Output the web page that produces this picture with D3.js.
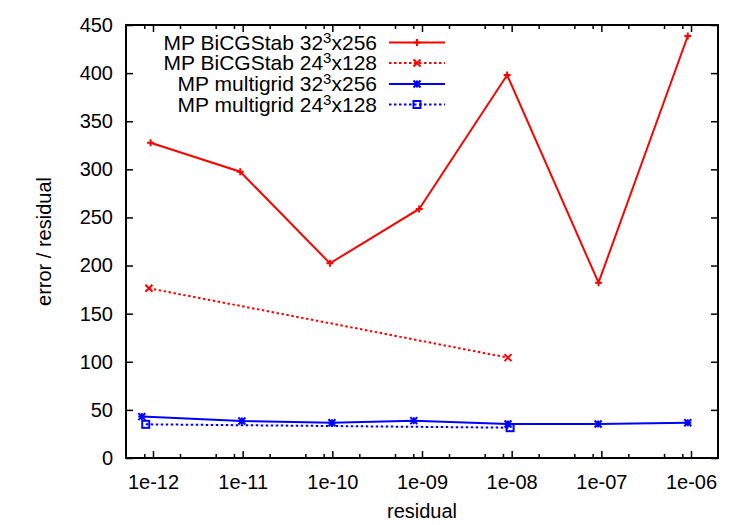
<!DOCTYPE html>
<html lang="en">
	<head>
		<meta charset="utf-8">
		<title>D3: error / residual</title>
		<script src="https://cdn.jsdelivr.net/npm/d3@7"></script>
		<style type="text/css">

			body {
				margin: 0;
				background: white;
			}

			text {
				font-family: "Liberation Sans", Arial, Helvetica, sans-serif;
				font-size: 20px;
				fill: black;
			}

			.legendText {
				font-size: 21px;
			}

			.frame {
				fill: none;
				stroke: black;
				stroke-width: 2;
			}

			.tick line {
				stroke: black;
				stroke-width: 1.5;
			}

			.series {
				fill: none;
				stroke-width: 2;
			}

			.dotted {
				stroke-dasharray: 2.5, 2.5;
			}

		</style>
	</head>
	<body>
		<script>

			//Data
			var bicg32Res = [9.4e-13, 9.4e-12, 9.4e-11, 9.3e-10, 8.9e-9, 9.3e-8, 9.2e-7];
			var bicg32Val = [327.7, 297.5, 202.3, 258.8, 398, 182.2, 438.6];

			var bicg24Res = [9.0e-13, 9.1e-9];
			var bicg24Val = [176.4, 104.3];

			var mg32Res = [7.5e-13, 9.8e-12, 9.9e-11, 8.1e-10, 9.1e-9, 9.2e-8, 9.2e-7];
			var mg32Val = [43, 38.5, 36.7, 38.8, 35.3, 35.3, 36.7];

			var mg24Res = [8.3e-13, 9.6e-9];
			var mg24Val = [35, 31.5];

			var seriesNames = ["MP BiCGStab 32", "MP BiCGStab 24", "MP multigrid 32", "MP multigrid 24"];
			var seriesSizes = ["x256", "x128", "x256", "x128"];

			var xTicks = [1e-12, 1e-11, 1e-10, 1e-9, 1e-8, 1e-7, 1e-6];
			var xTickLabels = ["1e-12", "1e-11", "1e-10", "1e-09", "1e-08", "1e-07", "1e-06"];
			var yTicks = [0, 50, 100, 150, 200, 250, 300, 350, 400, 450];

			//Width and height
			var w = 750;
			var h = 525;
			var padLeft = 126, padRight = 718, padTop = 25, padBottom = 458;

			var xScale = d3.scaleLog()
						.domain([5e-13, 2e-6])
						.range([padLeft, padRight]);

			var yScale = d3.scaleLinear()
						.domain([0, 450])
						.range([padBottom, padTop]);

			//Minor ticks (2, 5, 8 in each decade, like the original)
			var minorTicks = [];
			[-13, -12, -11, -10, -9, -8, -7, -6].forEach(function(e) {
				[2, 5, 8].forEach(function(m) {
					var v = m * Math.pow(10, e);
					if (v > 5e-13 && v < 2e-6) minorTicks.push(v);
				});
			});

			var svg = d3.select("body")
						.append("svg")
						.attr("width", w)
						.attr("height", h);

			function noDomain(g) {
				g.select(".domain").remove();
				g.attr("font-family", null).attr("font-size", null);
			}

			//Axes, ticks pointing inward and mirrored
			svg.append("g")
				.attr("transform", "translate(0," + padBottom + ")")
				.call(d3.axisBottom(xScale).tickValues(xTicks).tickSize(-7).tickPadding(17)
					.tickFormat(function(d, i) { return xTickLabels[i]; }))
				.call(noDomain);

			svg.append("g")
				.attr("transform", "translate(0," + padBottom + ")")
				.call(d3.axisBottom(xScale).tickValues(minorTicks).tickSize(-4).tickFormat(""))
				.call(noDomain);

			svg.append("g")
				.attr("transform", "translate(0," + padTop + ")")
				.call(d3.axisTop(xScale).tickValues(xTicks).tickSize(-7).tickFormat(""))
				.call(noDomain);

			svg.append("g")
				.attr("transform", "translate(0," + padTop + ")")
				.call(d3.axisTop(xScale).tickValues(minorTicks).tickSize(-4).tickFormat(""))
				.call(noDomain);

			svg.append("g")
				.attr("transform", "translate(" + padLeft + ",0)")
				.call(d3.axisLeft(yScale).tickValues(yTicks).tickSize(-7).tickPadding(13))
				.call(noDomain);

			svg.append("g")
				.attr("transform", "translate(" + padRight + ",0)")
				.call(d3.axisRight(yScale).tickValues(yTicks).tickSize(-7).tickFormat(""))
				.call(noDomain);

			//Frame
			svg.append("rect")
				.attr("class", "frame")
				.attr("x", padLeft)
				.attr("y", padTop)
				.attr("width", padRight - padLeft)
				.attr("height", padBottom - padTop);

			//Axis titles
			svg.append("text")
				.attr("x", (padLeft + padRight) / 2)
				.attr("y", 518)
				.attr("text-anchor", "middle")
				.text("residual");

			svg.append("text")
				.attr("transform", "translate(51," + ((padTop + padBottom) / 2) + ") rotate(-90)")
				.attr("text-anchor", "middle")
				.text("error / residual");

			//Marker shapes
			function drawMarker(g, type, x, y, color) {
				var s = 3.5;
				if (type == "plus" || type == "star") {
					g.append("path").attr("d", "M" + (x - s) + "," + y + "H" + (x + s) + "M" + x + "," + (y - s) + "V" + (y + s))
						.attr("stroke", color).attr("stroke-width", 2).attr("fill", "none");
				}
				if (type == "cross" || type == "star") {
					g.append("path").attr("d", "M" + (x - s) + "," + (y - s) + "L" + (x + s) + "," + (y + s) + "M" + (x - s) + "," + (y + s) + "L" + (x + s) + "," + (y - s))
						.attr("stroke", color).attr("stroke-width", 2).attr("fill", "none");
				}
				if (type == "square") {
					g.append("rect").attr("x", x - s).attr("y", y - s).attr("width", 2 * s).attr("height", 2 * s)
						.attr("stroke", color).attr("stroke-width", 2).attr("fill", "none");
				}
			}

			var series = [
				{ res: bicg32Res, val: bicg32Val, color: "#ff0000", dotted: false, marker: "plus" },
				{ res: bicg24Res, val: bicg24Val, color: "#ff0000", dotted: true, marker: "cross" },
				{ res: mg32Res, val: mg32Val, color: "#0000ff", dotted: false, marker: "star" },
				{ res: mg24Res, val: mg24Val, color: "#0000ff", dotted: true, marker: "square" }
			];

			var line = d3.line()
						.x(function(d) { return xScale(d[0]); })
						.y(function(d) { return yScale(d[1]); });

			//Legend positions
			var legendY = [42.5, 63, 84, 104.5];

			series.forEach(function(s, i) {
				var pts = d3.zip(s.res, s.val);
				var g = svg.append("g");

				g.append("path")
					.datum(pts)
					.attr("class", "series" + (s.dotted ? " dotted" : ""))
					.attr("stroke", s.color)
					.attr("d", line);

				pts.forEach(function(p) {
					drawMarker(g, s.marker, xScale(p[0]), yScale(p[1]), s.color);
				});

				//Legend entry
				var t = svg.append("text")
					.attr("class", "legendText")
					.attr("x", 377)
					.attr("y", legendY[i] + 7)
					.attr("text-anchor", "end");
				t.append("tspan").text(seriesNames[i]);
				t.append("tspan").attr("dy", -7).style("font-size", "15px").text("3");
				t.append("tspan").attr("dy", 7).text(seriesSizes[i]);

				svg.append("line")
					.attr("class", "series" + (s.dotted ? " dotted" : ""))
					.attr("stroke", s.color)
					.attr("x1", 389)
					.attr("x2", 445)
					.attr("y1", legendY[i])
					.attr("y2", legendY[i]);

				drawMarker(svg.append("g"), s.marker, 417, legendY[i], s.color);
			});

		</script>
	</body>
</html>
